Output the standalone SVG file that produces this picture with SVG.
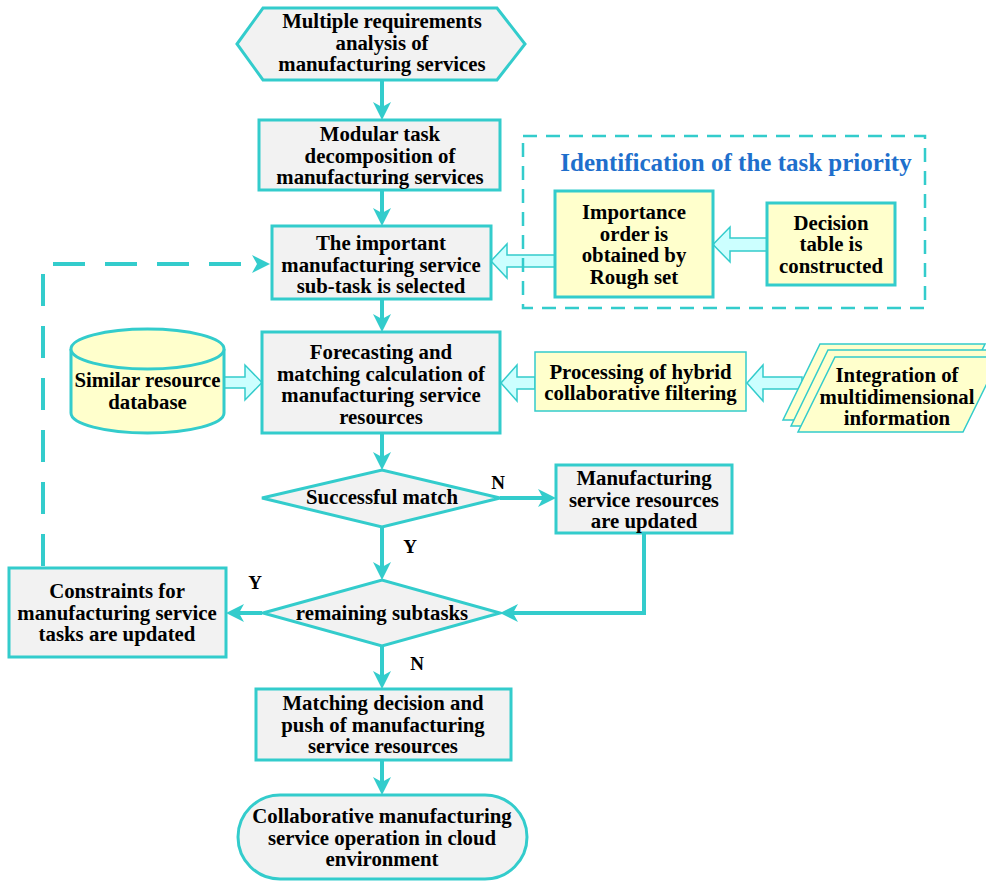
<svg xmlns="http://www.w3.org/2000/svg" width="986" height="881" viewBox="0 0 986 881">
<defs>
<style>
.box{fill:#f2f2f2;stroke:#33cccc;stroke-width:3}
.yel{fill:#ffffcc;stroke:#33cccc;stroke-width:3}
.par{fill:#ffffcc;stroke:#33cccc;stroke-width:1.5}
.hol{fill:#ccffff;stroke:#33cccc;stroke-width:1.5}
.t{font-family:"Liberation Serif","Times New Roman",serif;font-weight:bold;font-size:20.8px;fill:#000;text-anchor:middle}
.lb{font-family:"Liberation Serif","Times New Roman",serif;font-weight:bold;font-size:19px;fill:#000;text-anchor:middle}
.title{font-family:"Liberation Serif","Times New Roman",serif;font-weight:bold;font-size:25px;fill:#1e6fcc;text-anchor:middle}
.c{fill:none;stroke:#33cccc;stroke-width:4}
.d{fill:none;stroke:#33cccc;stroke-width:4;stroke-dasharray:32 20}
</style>
<marker id="ah" markerUnits="userSpaceOnUse" viewBox="0 0 18 18" markerWidth="18" markerHeight="18" refX="10" refY="9" orient="auto">
<path d="M0,0 L18,9 L0,18 L5,9 Z" fill="#33cccc"/>
</marker>
</defs>
<rect width="986" height="881" fill="#ffffff"/>

<g id="connectors">
<line class="c" x1="382" y1="80" x2="382" y2="112" marker-end="url(#ah)"/>
<line class="c" x1="382" y1="190" x2="382" y2="218" marker-end="url(#ah)"/>
<line class="c" x1="382" y1="299" x2="382" y2="324" marker-end="url(#ah)"/>
<line class="c" x1="382" y1="433" x2="382" y2="462" marker-end="url(#ah)"/>
<line class="c" x1="382" y1="527" x2="382" y2="572" marker-end="url(#ah)"/>
<line class="c" x1="500" y1="498" x2="548" y2="498" marker-end="url(#ah)"/>
<path class="c" d="M644,533 V613 H508" marker-end="url(#ah)"/>
<line class="c" x1="262" y1="613" x2="234" y2="613" marker-end="url(#ah)"/>
<line class="c" x1="382" y1="646" x2="382" y2="681" marker-end="url(#ah)"/>
<line class="c" x1="382" y1="760" x2="382" y2="787" marker-end="url(#ah)"/>
<path class="d" d="M43,566 V264 H262" marker-end="url(#ah)"/>
<polygon class="hol" points="767,238 730,238 730,227 713,244.5 730,262 730,251 767,251"/>
<polygon class="hol" points="555,255 507,255 507,244 491,261 507,278 507,267 555,267"/>
<polygon class="hol" points="224,377 245,377 245,365 262,382.5 245,400 245,388 224,388"/>
<polygon class="hol" points="535,377 517,377 517,365 501,383 517,401 517,389 535,389"/>
<polygon class="hol" points="802,377 763,377 763,365 747,383 763,401 763,389 802,389"/>
<text class="lb" x="498" y="489">N</text>
<text class="lb" x="410" y="553">Y</text>
<text class="lb" x="255" y="589">Y</text>
<text class="lb" x="417" y="670">N</text>
</g>

<g id="n_requirements">
<polygon class="box" points="237,44 263,8 497,8 525,44 497,80 263,80"/>
<text class="t" x="382" y="28">Multiple requirements</text>
<text class="t" x="382" y="49.5">analysis of</text>
<text class="t" x="382" y="71">manufacturing services</text>
</g>

<g id="n_decomposition">
<rect class="box" x="259" y="120" width="241" height="70"/>
<text class="t" x="380" y="141">Modular task</text>
<text class="t" x="380" y="162.5">decomposition of</text>
<text class="t" x="380" y="184">manufacturing services</text>
</g>

<g id="g_priority">
<rect x="523" y="136" width="402" height="172" fill="none" stroke="#33cccc" stroke-width="2.5" stroke-dasharray="14 9"/>
<text class="title" x="736" y="171">Identification of the task priority</text>
</g>

<g id="n_importance">
<rect class="yel" x="555" y="191" width="158" height="106"/>
<text class="t" x="634" y="219">Importance</text>
<text class="t" x="634" y="240.5">order is</text>
<text class="t" x="634" y="262">obtained by</text>
<text class="t" x="634" y="283.5">Rough set</text>
</g>

<g id="n_decision">
<rect class="yel" x="767" y="203" width="128" height="82"/>
<text class="t" x="831" y="229.5">Decision</text>
<text class="t" x="831" y="251">table is</text>
<text class="t" x="831" y="272.5">constructed</text>
</g>

<g id="n_selected">
<rect class="box" x="272" y="226" width="219" height="73"/>
<text class="t" x="381" y="250">The important</text>
<text class="t" x="381" y="271.5">manufacturing service</text>
<text class="t" x="381" y="293">sub-task is selected</text>
</g>

<g id="n_database">
<path class="yel" d="M71,349 V413 A76.5,20 0 0 0 224,413 V349"/>
<ellipse class="yel" cx="147.5" cy="349" rx="76.5" ry="20"/>
<text class="t" x="147.5" y="387">Similar resource</text>
<text class="t" x="147.5" y="408.5">database</text>
</g>

<g id="n_forecasting">
<rect class="box" x="262" y="332" width="238" height="101"/>
<text class="t" x="381" y="359">Forecasting and</text>
<text class="t" x="381" y="380.5">matching calculation of</text>
<text class="t" x="381" y="402">manufacturing service</text>
<text class="t" x="381" y="423.5">resources</text>
</g>

<g id="n_processing">
<rect class="par" x="535" y="352" width="211" height="59"/>
<text class="t" x="640.5" y="378.5">Processing of hybrid</text>
<text class="t" x="640.5" y="400">collaborative filtering</text>
</g>

<g id="n_integration">
<polygon class="par" points="820,344 985,344 948,420 783,420"/>
<polygon class="par" points="828,350 993,350 956,426 791,426"/>
<polygon class="par" points="835,357 1000,357 963,432 798,432"/>
<text class="t" x="897" y="382">Integration of</text>
<text class="t" x="897" y="403.5">multidimensional</text>
<text class="t" x="897" y="425">information</text>
</g>

<g id="n_match">
<polygon class="box" points="262,498 382,470 500,498 382,527"/>
<text class="t" x="382" y="504">Successful match</text>
</g>

<g id="n_updated">
<rect class="box" x="556" y="465" width="176" height="68"/>
<text class="t" x="644" y="485">Manufacturing</text>
<text class="t" x="644" y="506.5">service resources</text>
<text class="t" x="644" y="528">are updated</text>
</g>

<g id="n_remaining">
<polygon class="box" points="263,613 382,580 500,613 382,646"/>
<text class="t" x="382" y="620">remaining subtasks</text>
</g>

<g id="n_constraints">
<rect class="box" x="9" y="568" width="217" height="89"/>
<text class="t" x="117" y="598">Constraints for</text>
<text class="t" x="117" y="619.5">manufacturing service</text>
<text class="t" x="117" y="641">tasks are updated</text>
</g>

<g id="n_matching">
<rect class="box" x="256" y="689" width="255" height="71"/>
<text class="t" x="383" y="710">Matching decision and</text>
<text class="t" x="383" y="731.5">push of manufacturing</text>
<text class="t" x="383" y="753">service resources</text>
</g>

<g id="n_operation">
<rect class="box" x="238" y="795" width="289" height="84" rx="42" ry="42"/>
<text class="t" x="382" y="823">Collaborative manufacturing</text>
<text class="t" x="382" y="844.5">service operation in cloud</text>
<text class="t" x="382" y="866">environment</text>
</g>
</svg>
